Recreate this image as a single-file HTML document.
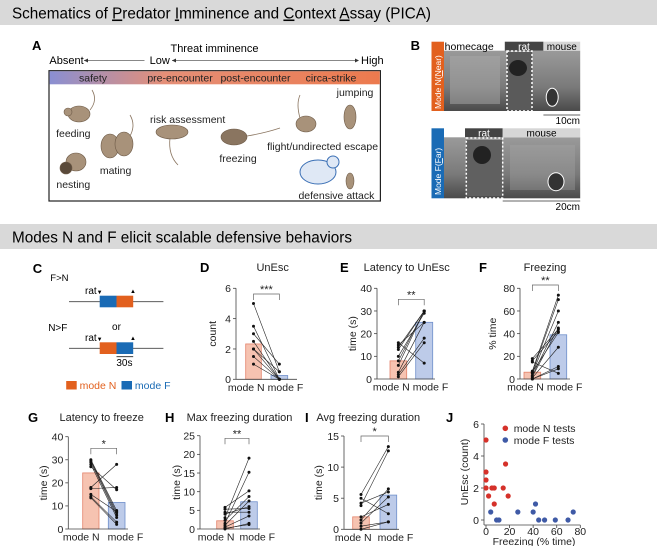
<!DOCTYPE html>
<html><head><meta charset="utf-8">
<style>
html,body{margin:0;padding:0;background:#fff;}
svg{display:block;font-family:"Liberation Sans",Arial,sans-serif;}
</style></head>
<body>
<svg id="fig" width="657" height="546" viewBox="0 0 657 546" xmlns="http://www.w3.org/2000/svg">
<defs>
<linearGradient id="imm" x1="0" x2="1" y1="0" y2="0">
<stop offset="0" stop-color="#8a8fd2"/><stop offset="0.35" stop-color="#e58f77"/><stop offset="1" stop-color="#ec7a4e"/>
</linearGradient>
<linearGradient id="photo" x1="0" x2="0" y1="0" y2="1">
<stop offset="0" stop-color="#9a9a9a"/><stop offset="0.6" stop-color="#7a7a7a"/><stop offset="1" stop-color="#4a4a4a"/>
</linearGradient>
</defs>

<rect x="0" y="0" width="657" height="25" fill="#d9d9d9"/>
<text x="12" y="18.5" font-size="15.5" textLength="419" lengthAdjust="spacingAndGlyphs">Schematics of <tspan text-decoration="underline">P</tspan>redator <tspan text-decoration="underline">I</tspan>mminence and <tspan text-decoration="underline">C</tspan>ontext <tspan text-decoration="underline">A</tspan>ssay (PICA)</text>

<g>
<text x="32" y="50" font-size="13" font-weight="bold">A</text>
<text x="214.5" y="52" font-size="11" text-anchor="middle">Threat imminence</text>
<text x="49.4" y="64" font-size="11">Absent</text>
<line x1="84" y1="60.5" x2="144.5" y2="60.5" stroke="#888" stroke-width="1"/>
<polygon points="84,60.5 88,58.5 88,62.5" fill="#333"/>
<text x="149.6" y="64" font-size="11">Low</text>
<line x1="172" y1="60.5" x2="357" y2="60.5" stroke="#888" stroke-width="1"/>
<polygon points="172,60.5 176,58.5 176,62.5" fill="#333"/>
<polygon points="359,60.5 355,58.5 355,62.5" fill="#333"/>
<text x="361" y="64" font-size="11">High</text>
<rect x="49" y="70.7" width="331.4" height="130.3" fill="#fff" stroke="#222" stroke-width="1.2"/>
<rect x="49.6" y="71.3" width="330.2" height="13" fill="url(#imm)"/>
<g font-size="10.5" text-anchor="middle" fill="#222">
<text x="93" y="81.5">safety</text>
<text x="180" y="81.5">pre-encounter</text>
<text x="255.5" y="81.5">post-encounter</text>
<text x="331" y="81.5">circa-strike</text>
</g>
<g fill="#a8927a" stroke="#6d5a47" stroke-width="0.6">
<ellipse cx="79" cy="114" rx="11" ry="8"/><circle cx="68" cy="112" r="4"/>
<ellipse cx="76" cy="162" rx="10" ry="9"/><circle cx="66" cy="168" r="6" fill="#5a4a3a"/>
<ellipse cx="110" cy="146" rx="9" ry="12"/><ellipse cx="124" cy="144" rx="9" ry="12"/>
<ellipse cx="172" cy="132" rx="16" ry="7"/>
<ellipse cx="234" cy="137" rx="13" ry="8" fill="#8a7560"/>
<ellipse cx="306" cy="124" rx="10" ry="8"/>
<ellipse cx="350" cy="117" rx="6" ry="12"/>
<ellipse cx="350" cy="181" rx="4" ry="8"/>
</g>
<g fill="none" stroke="#8a7560" stroke-width="0.8">
<path d="M90,110 Q98,100 92,90"/><path d="M130,136 Q136,125 130,115"/><path d="M170,138 Q168,155 178,165"/><path d="M247,136 Q265,133 280,128"/><path d="M300,118 Q296,104 300,95"/>
</g>
<g>
<ellipse cx="318" cy="172" rx="18" ry="12" fill="#dfe8f5" stroke="#3a6fb5" stroke-width="1"/>
<circle cx="333" cy="162" r="6" fill="#dfe8f5" stroke="#3a6fb5" stroke-width="1"/>
</g>
<g font-size="10.5" text-anchor="middle" fill="#222">
<text x="355" y="96">jumping</text>
<text x="73.3" y="137">feeding</text>
<text x="187.7" y="123">risk assessment</text>
<text x="322.6" y="150">flight/undirected escape</text>
<text x="238" y="162">freezing</text>
<text x="115.6" y="174">mating</text>
<text x="73.3" y="188">nesting</text>
<text x="336.4" y="199">defensive attack</text>
</g>
</g>

<g>
<text x="410.6" y="50" font-size="13" font-weight="bold">B</text>
<rect x="444" y="50.7" width="136.2" height="60.3" fill="url(#photo)"/>
<rect x="450" y="56" width="50" height="48" fill="#aaa" opacity="0.5"/>
<rect x="507" y="52" width="25" height="58" fill="#5a5a5a"/>
<ellipse cx="518" cy="68" rx="9" ry="8" fill="#222"/>
<rect x="431.5" y="41.7" width="12.5" height="69.3" fill="#e2601e"/>
<text transform="translate(441,109) rotate(-90)" font-size="8.5" fill="#fff">Mode N(<tspan text-decoration="underline">N</tspan>ear)</text>
<text x="469.2" y="50" font-size="10.5" text-anchor="middle">homecage</text>
<rect x="504.8" y="41.7" width="38.6" height="9" fill="#444"/>
<text x="524" y="50" font-size="10" text-anchor="middle" fill="#fff">rat</text>
<rect x="543.4" y="41.7" width="36.8" height="9" fill="#d6d6d6"/>
<text x="561.8" y="50" font-size="10" text-anchor="middle">mouse</text>
<rect x="507" y="51" width="25" height="60" fill="none" stroke="#fff" stroke-width="1.5" stroke-dasharray="2,2"/>
<ellipse cx="552.2" cy="97.3" rx="6" ry="9" fill="#333" stroke="#fff" stroke-width="1"/>
<line x1="543.4" y1="115" x2="580.2" y2="115" stroke="#333" stroke-width="0.8"/>
<text x="580" y="124" font-size="10" text-anchor="end">10cm</text>

<rect x="444" y="137.3" width="136.2" height="61" fill="url(#photo)"/>
<rect x="466" y="140" width="36" height="56" fill="#606060"/>
<ellipse cx="482" cy="155" rx="9" ry="9" fill="#222"/>
<rect x="510" y="145" width="65" height="45" fill="#aaa" opacity="0.35"/>
<rect x="431.5" y="128.3" width="12.5" height="70" fill="#1a6bb5"/>
<text transform="translate(441,195) rotate(-90)" font-size="8.5" fill="#fff">Mode F(<tspan text-decoration="underline">F</tspan>ar)</text>
<rect x="465" y="128.3" width="37.7" height="9" fill="#444"/>
<text x="484" y="136.5" font-size="10" text-anchor="middle" fill="#fff">rat</text>
<rect x="502.7" y="128.3" width="77.5" height="9" fill="#d6d6d6"/>
<text x="541.5" y="136.5" font-size="10" text-anchor="middle">mouse</text>
<rect x="466.3" y="138" width="36.4" height="60" fill="none" stroke="#fff" stroke-width="1.5" stroke-dasharray="2,2"/>
<ellipse cx="556" cy="181.7" rx="8" ry="9" fill="#333" stroke="#fff" stroke-width="1"/>
<line x1="502.7" y1="201" x2="580.2" y2="201" stroke="#333" stroke-width="0.8"/>
<text x="580" y="210" font-size="10" text-anchor="end">20cm</text>
</g>

<rect x="0" y="224" width="657" height="25" fill="#d9d9d9"/>
<text x="12" y="242.5" font-size="15.5" textLength="340" lengthAdjust="spacingAndGlyphs">Modes N and F elicit scalable defensive behaviors</text>

<g>
<text x="32.7" y="273" font-size="13" font-weight="bold">C</text>
<text x="50.3" y="281" font-size="9.5">F&gt;N</text>
<line x1="69" y1="301.7" x2="163.4" y2="301.7" stroke="#444" stroke-width="0.8"/>
<rect x="99.7" y="295.7" width="16.8" height="11.6" fill="#1a6bb5"/>
<rect x="116.5" y="295.7" width="16.7" height="11.6" fill="#e2601e"/>
<text x="85" y="294" font-size="10">rat<tspan font-size="6">▼</tspan></text>
<text x="130" y="293" font-size="6">▲</text>
<text x="48.2" y="331" font-size="10">N&gt;F</text>
<text x="116.5" y="330" font-size="10" text-anchor="middle">or</text>
<line x1="69" y1="348.3" x2="163.4" y2="348.3" stroke="#444" stroke-width="0.8"/>
<rect x="99.7" y="342.3" width="16.8" height="11.7" fill="#e2601e"/>
<rect x="116.5" y="342.3" width="16.7" height="11.7" fill="#1a6bb5"/>
<text x="85" y="341" font-size="10">rat<tspan font-size="6">▼</tspan></text>
<text x="130" y="340" font-size="6">▲</text>
<line x1="116.5" y1="356.7" x2="133.2" y2="356.7" stroke="#222" stroke-width="0.8"/>
<text x="124.4" y="366" font-size="10" text-anchor="middle">30s</text>
<rect x="66.2" y="381" width="10.5" height="8.5" fill="#e2601e"/>
<text x="79.6" y="389" font-size="10.5" fill="#e2601e">mode N</text>
<rect x="121.5" y="381" width="10.5" height="8.5" fill="#1a6bb5"/>
<text x="134.9" y="389" font-size="10.5" fill="#1a6bb5">mode F</text>
</g>
<g id="charts"></g>
</svg>

<script>
const categories = ["mode N", "mode F"];
const dTicks = [0, 2, 4, 6];
const dMeans = [2.33, 0.25];
const dN = [5, 3.5, 3, 2.5, 2, 1.5, 1, 2];
const dF = [0.5, 0, 1, 0, 0.5, 0, 0, 0];
const eTicks = [0, 10, 20, 30, 40];
const eMeans = [8, 25];
const eN = [16, 15, 14, 13, 10, 8, 3, 2, 1, 6];
const eF = [7, 25, 30, 30, 29, 30, 25, 18, 16, 30];
const fTicks = [0, 20, 40, 60, 80];
const fMeans = [6, 39];
const fN = [18, 16, 15, 7, 6, 5, 3, 2, 1, 0, 0, 6];
const fF = [44, 42, 5, 74, 70, 60, 50, 45, 28, 11, 9, 41];
const gTicks = [0, 10, 20, 30, 40];
const gMeans = [24.3, 11.5];
const gN = [30, 29.5, 29, 28, 27, 18, 17.5, 15, 14, 13.5];
const gF = [8, 7, 6, 5, 17, 28, 18, 7.5, 3, 2];
const hTicks = [0, 5, 10, 15, 20, 25];
const hMeans = [2.2, 7.3];
const hN = [5.8, 5.3, 4.5, 4, 3, 2.3, 1.5, 1, 0.5, 0, 0.2];
const hF = [10.2, 5.5, 4.5, 6, 19, 8.7, 15.2, 7.5, 3.5, 1.5, 1.2];
const iTicks = [0, 5, 10, 15];
const iMeans = [2, 5.5];
const iN = [5.6, 5, 4.2, 3.8, 2, 1.5, 1, 0.5, 0];
const iF = [13.3, 2.5, 6, 12.6, 4, 6.5, 5.2, 1.2, 1.2];
const jxTicks = [0, 20, 40, 60, 80];
const jyTicks = [0, 2, 4, 6];
const jNx = [0, 0, 0, 0, 2.2, 5, 7, 7, 14.6, 16.6, 18.8];
const jNy = [5, 3, 2.5, 2, 1.5, 2, 2, 1, 2, 3.5, 1.5];
const jFx = [4, 9, 11, 27, 40, 42, 44.7, 49.7, 58.8, 69.6, 74];
const jFy = [0.5, 0, 0, 0.5, 0.5, 1, 0, 0, 0, 0, 0.5];

const NS = "http://www.w3.org/2000/svg";
const root = document.getElementById("charts");
function mk(tag, attrs, parent) {
  const el = document.createElementNS(NS, tag);
  for (const k in attrs) el.setAttribute(k, attrs[k]);
  (parent || root).appendChild(el);
  return el;
}

function pairedChart(cfg, ticks, means, nVals, fVals) {
  const g = mk("g", {});
  
  
  const max = ticks[ticks.length - 1];
  const ys = v => cfg.y0 - (v / max) * (cfg.y0 - cfg.yTop);
  const barX = [cfg.bN, cfg.bF];
  const fills = ["#f6c3b1", "#bdcbe9"];
  const strokes = ["#e4826a", "#6f8fcb"];
  means.forEach((m, i) => {
    const b = mk("rect", {x: barX[i][0], y: ys(m), width: barX[i][1] - barX[i][0], height: cfg.y0 - ys(m), fill: fills[i], stroke: strokes[i], "stroke-width": 0.8}, g);
    
    
  });
  mk("line", {x1: cfg.ax, y1: cfg.yTop, x2: cfg.ax, y2: cfg.y0, stroke: "#444", "stroke-width": 0.8}, g);
  mk("line", {x1: cfg.ax, y1: cfg.y0, x2: cfg.xEnd, y2: cfg.y0, stroke: "#444", "stroke-width": 0.8}, g);
  ticks.forEach(t => {
    mk("line", {x1: cfg.ax - 3, y1: ys(t), x2: cfg.ax, y2: ys(t), stroke: "#444", "stroke-width": 0.8}, g);
    const tl = mk("text", {x: cfg.ax - 5, y: ys(t) + 3.8, "font-size": 10.5, "text-anchor": "end", fill: "#222"}, g);
    tl.textContent = t;
    
    
  });
  const cx = [(cfg.bN[0] + cfg.bN[1]) / 2, (cfg.bF[0] + cfg.bF[1]) / 2];
  const mid = (cfg.bN[1] + cfg.bF[0]) / 2;
  const gap = cfg.gap || 1.5;
  categories.forEach((c, i) => {
    const xl = mk("text", {x: i === 0 ? mid - gap : mid + gap, y: cfg.y0 + 11.5, "font-size": 10.5, "text-anchor": i === 0 ? "end" : "start", fill: "#222"}, g);
    xl.textContent = c;
    
    
  });
  nVals.forEach((v, k) => {
    const ln = mk("line", {x1: cx[0], y1: ys(v), x2: cx[1], y2: ys(fVals[k]), stroke: "#222", "stroke-width": 0.6}, g);
    
    
    const p1 = mk("circle", {cx: cx[0], cy: ys(v), r: 1.5, fill: "#111"}, g);
    
    
    const p2 = mk("circle", {cx: cx[1], cy: ys(fVals[k]), r: 1.5, fill: "#111"}, g);
    
    
  });
  const br = mk("path", {d: `M${cx[0]},${cfg.brY + 6} V${cfg.brY} H${cx[1]} V${cfg.brY + 6}`, fill: "none", stroke: "#666", "stroke-width": 0.7}, g);
  
  
  const st = mk("text", {x: (cx[0] + cx[1]) / 2, y: cfg.brY - 1, "font-size": 11, "text-anchor": "middle", fill: "#222"}, g);
  st.textContent = cfg.stars;
  
  
  const tt = mk("text", {x: cfg.titleX, y: cfg.titleY, "font-size": 11, "text-anchor": "middle", fill: "#222"}, g);
  tt.textContent = cfg.title;
  
  
  const lt = mk("text", {x: cfg.letterX, y: cfg.titleY + 1, "font-size": 13, "font-weight": "bold"}, g);
  lt.textContent = cfg.letter;
  
  
  const ymid = (cfg.y0 + cfg.yTop) / 2;
  const yt = mk("text", {x: 0, y: 0, "font-size": 10.5, "text-anchor": "middle", fill: "#222", transform: `translate(${cfg.yLabX},${ymid}) rotate(-90)`}, g);
  yt.textContent = cfg.yLabel;
  
  
}

pairedChart({name: "unesc", letter: "D", title: "UnEsc", titleX: 272.7, titleY: 271, letterX: 200, ax: 236, xEnd: 297, y0: 379.3, yTop: 288.3, bN: [245.7, 261.3], bF: [271, 287.7], brY: 294, stars: "***", yLabel: "count", yLabX: 216}, dTicks, dMeans, dN, dF);
pairedChart({name: "latency-unesc", letter: "E", title: "Latency to UnEsc", titleX: 406.7, titleY: 271, letterX: 340, ax: 377, xEnd: 435, y0: 379, yTop: 288.3, bN: [390, 406.7], bF: [415.7, 432.7], brY: 299.3, stars: "**", yLabel: "time (s)", yLabX: 356}, eTicks, eMeans, eN, eF);
pairedChart({name: "freezing", letter: "F", title: "Freezing", titleX: 545, titleY: 271, letterX: 479, ax: 520, xEnd: 570, y0: 379, yTop: 288.3, bN: [524, 540.7], bF: [550, 566.7], brY: 285, stars: "**", yLabel: "% time", yLabX: 496}, fTicks, fMeans, fN, fF);
pairedChart({name: "latency-freeze", letter: "G", title: "Latency to freeze", titleX: 101.7, titleY: 421, letterX: 28, ax: 68.3, xEnd: 128, y0: 529, yTop: 436.7, bN: [82.7, 99], bF: [108.3, 125], brY: 448.3, stars: "*", yLabel: "time (s)", yLabX: 47, gap: 4}, gTicks, gMeans, gN, gF);
pairedChart({name: "max-freezing", letter: "H", title: "Max freezing duration", titleX: 239.5, titleY: 421, letterX: 165, ax: 200, xEnd: 260, y0: 529, yTop: 435.7, bN: [216.7, 233.3], bF: [240.7, 257.3], brY: 438.3, stars: "**", yLabel: "time (s)", yLabX: 180, gap: 2.5}, hTicks, hMeans, hN, hF);
pairedChart({name: "avg-freezing", letter: "I", title: "Avg freezing duration", titleX: 368.3, titleY: 421, letterX: 305, ax: 344, xEnd: 399, y0: 529.3, yTop: 436, bN: [352.7, 369.3], bF: [380, 396.7], brY: 436, stars: "*", yLabel: "time (s)", yLabX: 322, gap: 3}, iTicks, iMeans, iN, iF);

(function () {
  const g = mk("g", {});
  
  
  const x0 = 486, x80 = 580.3, y0 = 520, y6 = 424, axX = 484, axY = 525;
  const xs = v => x0 + (v / jxTicks[jxTicks.length - 1]) * (x80 - x0);
  const ys = v => y0 - (v / jyTicks[jyTicks.length - 1]) * (y0 - y6);
  mk("line", {x1: axX, y1: y6, x2: axX, y2: axY, stroke: "#444", "stroke-width": 0.8}, g);
  mk("line", {x1: axX, y1: axY, x2: x80, y2: axY, stroke: "#444", "stroke-width": 0.8}, g);
  jyTicks.forEach(t => {
    mk("line", {x1: axX - 3, y1: ys(t), x2: axX, y2: ys(t), stroke: "#444", "stroke-width": 0.8}, g);
    const l = mk("text", {x: axX - 5, y: ys(t) + 3.8, "font-size": 10.5, "text-anchor": "end", fill: "#222"}, g);
    l.textContent = t;
    
    
  });
  jxTicks.forEach(t => {
    mk("line", {x1: xs(t), y1: axY, x2: xs(t), y2: axY + 3, stroke: "#444", "stroke-width": 0.8}, g);
    const l = mk("text", {x: xs(t), y: 535, "font-size": 10.5, "text-anchor": "middle", fill: "#222"}, g);
    l.textContent = t;
    
    
  });
  jNx.forEach((v, k) => {
    const c = mk("circle", {cx: xs(v), cy: ys(jNy[k]), r: 2.6, fill: "#d5312a"}, g);
    
    
  });
  jFx.forEach((v, k) => {
    const c = mk("circle", {cx: xs(v), cy: ys(jFy[k]), r: 2.6, fill: "#3f5aa6"}, g);
    
    
  });
  const xt = mk("text", {x: 534, y: 545, "font-size": 10.5, "text-anchor": "middle", fill: "#222"}, g);
  xt.textContent = "Freezing (% time)";
  
  
  const yt = mk("text", {x: 0, y: 0, "font-size": 10.5, "text-anchor": "middle", fill: "#222", transform: "translate(468,472) rotate(-90)"}, g);
  yt.textContent = "UnEsc (count)";
  
  
  const jl = mk("text", {x: 446, y: 422, "font-size": 13, "font-weight": "bold"}, g);
  jl.textContent = "J";
  
  
  const ld1 = mk("circle", {cx: 505.3, cy: 428.3, r: 2.8, fill: "#d5312a"}, g);
  
  
  const lt1 = mk("text", {x: 513.7, y: 432, "font-size": 10.5, fill: "#222"}, g);
  lt1.textContent = "mode N tests";
  
  
  const ld2 = mk("circle", {cx: 505.3, cy: 440, r: 2.8, fill: "#3f5aa6"}, g);
  
  
  const lt2 = mk("text", {x: 513.7, y: 444, "font-size": 10.5, fill: "#222"}, g);
  lt2.textContent = "mode F tests";
  
  
})();
</script>
</body></html>
